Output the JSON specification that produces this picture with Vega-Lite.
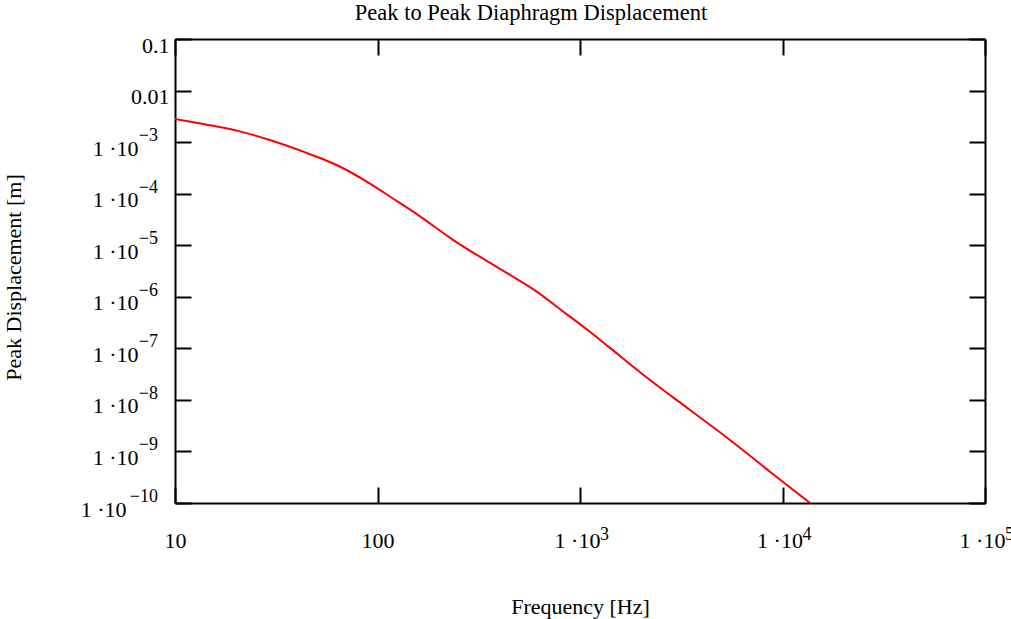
{
  "$schema": "https://vega.github.io/schema/vega-lite/v6.json",
  "autosize": {"type": "none"},
  "padding": {"left": 175, "top": 39, "right": 26, "bottom": 116},
  "width": 810,
  "height": 464,
  "background": "white",
  "title": {"text": "Peak to Peak Diaphragm Displacement", "font": "Liberation Serif", "fontSize": 22.5, "fontWeight": "normal", "color": "black", "anchor": "middle", "offset": 10, "dx": -49},
  "datasets": {
    "curve": [
      {"f": 10, "d": 2.81e-3},
      {"f": 13.8, "d": 2.24e-3},
      {"f": 20.2, "d": 1.67e-3},
      {"f": 29.4, "d": 1.10e-3},
      {"f": 43.0, "d": 6.52e-4},
      {"f": 62.8, "d": 3.60e-4},
      {"f": 91.8, "d": 1.57e-4},
      {"f": 115, "d": 8.81e-5},
      {"f": 150, "d": 4.47e-5},
      {"f": 237, "d": 1.26e-5},
      {"f": 451, "d": 2.65e-6},
      {"f": 611, "d": 1.26e-6},
      {"f": 828, "d": 5.14e-7},
      {"f": 1119, "d": 2.10e-7},
      {"f": 1406, "d": 1.02e-7},
      {"f": 2217, "d": 2.43e-8},
      {"f": 3494, "d": 6.37e-9},
      {"f": 5504, "d": 1.67e-9},
      {"f": 8673, "d": 4.05e-10},
      {"f": 13680, "d": 1e-10}
    ],
    "yexp": [
      {"v": 1e-3, "e": "−3"},
      {"v": 1e-4, "e": "−4"},
      {"v": 1e-5, "e": "−5"},
      {"v": 1e-6, "e": "−6"},
      {"v": 1e-7, "e": "−7"},
      {"v": 1e-8, "e": "−8"},
      {"v": 1e-9, "e": "−9"},
      {"v": 1e-10, "e": "−10"}
    ],
    "xexp": [
      {"v": 1000, "e": "3"},
      {"v": 10000, "e": "4"},
      {"v": 100000, "e": "5"}
    ]
  },
  "layer": [
    {
      "data": {"name": "curve"},
      "mark": {"type": "line", "color": "#ff0000", "strokeWidth": 2, "interpolate": "monotone", "clip": true},
      "encoding": {
        "x": {"field": "f", "type": "quantitative", "scale": {"type": "log", "domain": [10, 100000], "nice": false},
          "axis": {"orient": "bottom", "title": "Frequency [Hz]", "titleX": 405, "titleY": 110, "titleBaseline": "alphabetic", "values": [10, 100, 1000, 10000, 100000], "tickSize": -16, "labelPadding": 60, "labelBaseline": "alphabetic", "labelFlush": false, "labelOverlap": false, "labelBound": false,
            "labelExpr": "datum.value < 50 ? '10' : datum.value < 500 ? '100' : '1 ·10'",
            "labelOffset": {"condition": {"test": "datum.value > 500", "value": -3}, "value": 0}}},
        "y": {"field": "d", "type": "quantitative", "scale": {"type": "log", "domain": [1e-10, 0.1], "nice": false},
          "axis": {"orient": "left", "title": "Peak Displacement [m]", "titleX": -155, "titleY": 238, "titleBaseline": "alphabetic", "values": [1e-10, 1e-9, 1e-8, 1e-7, 1e-6, 1e-5, 1e-4, 1e-3, 0.01, 0.1], "tickSize": -16, "labelBaseline": "alphabetic", "labelOffset": 13, "labelFlush": false, "labelOverlap": false, "labelBound": false,
            "labelExpr": "datum.value > 0.05 ? '0.1' : datum.value > 0.005 ? '0.01' : '1 ·10'",
            "labelPadding": {"condition": [{"test": "datum.value < 5e-10", "value": 65}, {"test": "datum.value < 0.005", "value": 53}], "value": 22}}}
      }
    },
    {
      "data": {"name": "curve"},
      "mark": {"type": "line", "strokeOpacity": 0},
      "encoding": {
        "x": {"field": "f", "type": "quantitative", "scale": {"type": "log", "domain": [10, 100000], "nice": false},
          "axis": {"orient": "top", "title": null, "labels": false, "values": [10, 100, 1000, 10000, 100000], "tickSize": -16}},
        "y": {"field": "d", "type": "quantitative", "scale": {"type": "log", "domain": [1e-10, 0.1], "nice": false},
          "axis": {"orient": "right", "title": null, "labels": false, "values": [1e-10, 1e-9, 1e-8, 1e-7, 1e-6, 1e-5, 1e-4, 1e-3, 0.01, 0.1], "tickSize": -16}}
      }
    },
    {
      "data": {"name": "yexp"},
      "mark": {"type": "text", "align": "right", "baseline": "alphabetic", "dx": -17, "dy": -1, "font": "Liberation Serif", "fontSize": 18, "color": "black", "clip": false},
      "encoding": {
        "x": {"datum": 10, "type": "quantitative", "axis": null},
        "y": {"field": "v", "type": "quantitative", "axis": null},
        "text": {"field": "e"}
      }
    },
    {
      "data": {"name": "xexp"},
      "mark": {"type": "text", "align": "left", "baseline": "alphabetic", "dx": 20, "dy": 37, "font": "Liberation Serif", "fontSize": 18, "color": "black", "clip": false},
      "encoding": {
        "x": {"field": "v", "type": "quantitative", "axis": null},
        "y": {"datum": 1e-10, "type": "quantitative", "axis": null},
        "text": {"field": "e"}
      }
    }
  ],
  "resolve": {"axis": {"x": "independent", "y": "independent"}},
  "config": {
    "view": {"stroke": null},
    "axis": {
      "grid": false,
      "domainColor": "black", "domainWidth": 2,
      "tickColor": "black", "tickWidth": 2,
      "labelFont": "Liberation Serif", "labelFontSize": 22, "labelColor": "black",
      "titleFont": "Liberation Serif", "titleFontSize": 22, "titleFontWeight": "normal", "titleColor": "black"
    }
  }
}
